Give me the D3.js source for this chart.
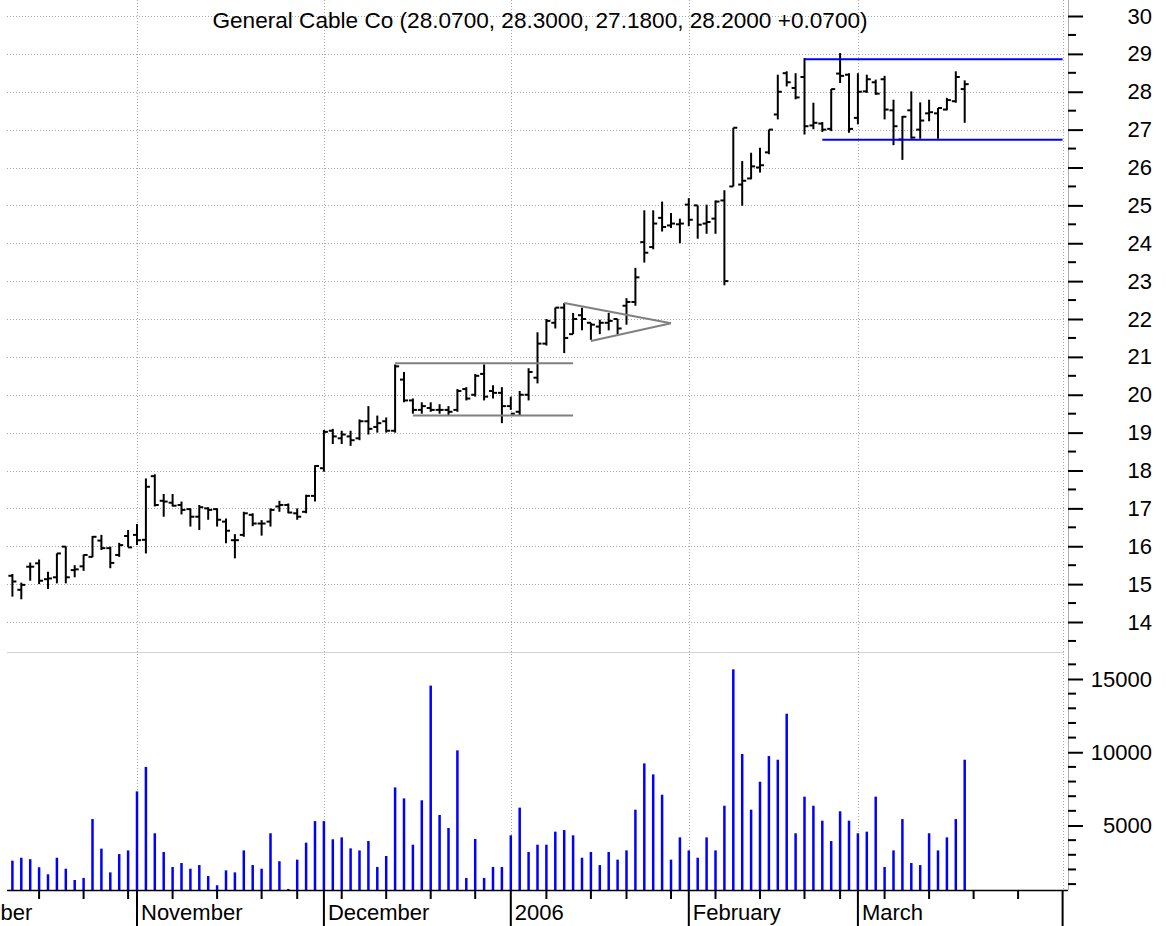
<!DOCTYPE html>
<html>
<head>
<meta charset="utf-8">
<script src="https://cdn.jsdelivr.net/npm/d3@7"></script>
<style>
  body { margin: 0; background: #fff; }
  svg { display: block; }
  text { font-family: "Liberation Sans", Arial, sans-serif; fill: #000; }
</style>
</head>
<body>
<div id="chart"></div>
<script>
// General Cable Co, daily bars 2005-10-12 .. 2006-03-17
const firstDate = '2005-10-12';
const holidays = ['2005-11-24', '2005-12-26', '2006-01-02', '2006-01-16', '2006-02-20'];

const opens = [
  15.22, 14.85, 15.46, 15.55, 15.13, 15.18, 15.99, 15.37, 15.47, 15.72, 16.15, 15.95, 15.77, 16.27,
  16.30, 16.17, 17.85, 17.20, 17.15, 17.09, 16.98, 16.78, 17.00, 16.98, 16.65, 16.16, 16.30, 16.83, 16.60, 16.65, 17.05, 17.09, 16.87, 16.91, 17.33,
  18.06, 19.05, 18.85, 18.90, 18.85, 19.30, 19.15, 19.30, 19.05, 20.40, 19.85, 19.60, 19.65, 19.60, 19.60, 19.60, 20.15, 20.00, 20.55, 20.10, 20.05,
  19.70, 19.55, 20.00, 20.45, 21.35, 21.90, 22.30, 21.60, 22.10, 21.90, 21.80, 21.90, 22.00, 22.35, 22.45, 24.03, 23.90, 24.67, 24.47, 24.50,
  25.02, 25.00, 24.52, 24.65, 25.13, 25.50, 25.55, 25.71, 26.00, 26.40, 27.40, 28.49, 28.10, 28.39, 27.11, 27.16, 27.02, 28.48, 28.45,
  27.31, 28.01, 28.25, 28.33, 27.51, 26.74, 27.51, 27.00, 27.43, 27.43, 27.53, 27.75, 28.07
];
const highs = [
  15.27, 15.04, 15.57, 15.65, 15.33, 15.81, 16.00, 15.50, 15.78, 16.27, 16.30, 15.99, 16.09, 16.43,
  16.59, 17.79, 17.90, 17.38, 17.38, 17.18, 17.00, 17.09, 17.03, 17.00, 16.73, 16.32, 16.91, 16.87, 16.69, 17.00, 17.20, 17.13, 17.00, 17.36, 18.14,
  19.07, 19.10, 19.05, 19.05, 19.35, 19.70, 19.45, 19.40, 20.80, 20.60, 19.90, 19.80, 19.80, 19.75, 19.70, 20.15, 20.20, 20.55, 20.80, 20.25, 20.20,
  19.95, 20.10, 20.70, 21.65, 22.00, 22.30, 22.42, 22.16, 22.30, 21.90, 21.98, 22.16, 22.00, 22.55, 23.35, 24.87, 24.87, 25.10, 24.80, 24.65,
  25.19, 25.00, 25.02, 25.13, 25.40, 27.05, 26.17, 26.39, 26.52, 27.00, 28.45, 28.54, 28.49, 28.89, 27.71, 27.20, 28.07, 29.02, 28.49,
  28.49, 28.45, 28.32, 28.42, 27.79, 27.36, 28.01, 27.72, 27.79, 27.57, 27.84, 28.54, 28.30
];
const lows = [
  14.67, 14.60, 15.09, 15.00, 14.87, 15.02, 15.02, 15.18, 15.35, 15.71, 15.90, 15.42, 15.72, 15.97,
  16.03, 15.81, 17.05, 16.78, 17.05, 16.84, 16.52, 16.43, 16.70, 16.52, 16.08, 15.68, 16.25, 16.53, 16.28, 16.52, 16.91, 16.87, 16.70, 16.87, 17.18,
  17.97, 18.70, 18.70, 18.65, 18.80, 18.95, 19.00, 19.00, 19.00, 19.80, 19.50, 19.50, 19.55, 19.50, 19.45, 19.55, 19.85, 19.95, 19.85, 19.90, 19.25,
  19.60, 19.45, 19.85, 20.30, 21.30, 21.75, 21.10, 21.60, 21.70, 21.45, 21.60, 21.70, 21.60, 21.85, 22.35, 23.49, 23.84, 24.31, 24.40, 24.00,
  24.45, 24.12, 24.25, 24.25, 22.89, 25.50, 24.99, 25.69, 25.87, 26.35, 27.27, 28.14, 27.80, 26.87, 27.01, 26.94, 26.96, 28.23, 26.92,
  27.14, 27.97, 27.92, 27.27, 26.59, 26.20, 26.76, 26.76, 27.22, 26.76, 27.51, 27.71, 27.18
];
const closes = [
  15.07, 14.98, 15.46, 15.09, 15.15, 15.81, 15.18, 15.39, 15.77, 16.25, 15.95, 15.56, 16.03, 15.97,
  16.16, 17.57, 17.09, 17.18, 17.07, 16.96, 16.78, 17.03, 16.96, 16.70, 16.41, 16.16, 16.87, 16.60, 16.60, 16.96, 17.09, 16.89, 16.78, 17.33, 18.12,
  19.02, 18.90, 18.95, 18.80, 19.30, 19.10, 19.25, 19.05, 20.75, 19.85, 19.60, 19.70, 19.60, 19.60, 19.55, 20.10, 19.90, 20.50, 19.95, 20.05, 19.70,
  19.50, 20.00, 20.60, 21.35, 21.95, 22.30, 21.50, 22.00, 22.00, 21.85, 21.90, 21.95, 21.75, 22.45, 23.10, 23.75, 24.52, 24.43, 24.52, 24.52,
  24.62, 24.49, 24.56, 25.10, 23.00, 27.05, 25.65, 26.03, 26.06, 27.00, 28.00, 28.25, 27.85, 27.09, 27.18, 27.00, 28.07, 28.42, 27.02,
  28.00, 28.33, 27.95, 27.53, 27.09, 27.34, 26.79, 27.24, 27.46, 27.57, 27.78, 28.39, 28.20
];
const volumes = [
  2600, 2800, 2700, 2150, 1670, 2800, 2050, 1280, 1420, 5440, 3420, 1800, 3050, 3300,
  7330, 9000, 4470, 3190, 2170, 2440, 2050, 2300, 1550, 920, 1940, 1800, 3300, 2300, 2050, 4470, 2560, 670, 2670, 3830, 5300,
  5300, 4060, 4190, 3440, 3300, 3940, 2170, 2920, 7600, 6850, 3690, 6720, 14550, 5720, 4830, 10130, 1420, 4080, 1420, 2170, 2170,
  4330, 6220, 3190, 3690, 3690, 4580, 4690, 4330, 2800, 3190, 2300, 3190, 2670, 3300, 6080, 9240, 8490, 7100, 2670, 4190,
  3300, 2800, 4190, 3300, 6350, 15660, 9880, 6080, 7990, 9740, 9490, 12630, 4470, 6970, 6350, 5330, 3940, 5970, 5330,
  4470, 4580, 6970, 2170, 3300, 5440, 2440, 2300, 4470, 3300, 4190, 5440, 9490
];

const priceTicks = d3.range(14, 31);
const volumeTicks = [5000, 10000, 15000];
const monthNames = ['January', 'February', 'March', 'April', 'May', 'June', 'July',
  'August', 'September', 'October', 'November', 'December'];
const title = 'General Cable Co (28.0700, 28.3000, 27.1800, 28.2000 +0.0700)';

// Drawn studies: [start bar, end bar, price] segments
const rectangleLines = [[43, 63, 20.83, 20.83], [45, 63, 19.45, 19.45]];
const triangleLines = [[62, 74, 22.42, 21.89], [65, 74, 21.42, 21.89]];
const rangeLines = [[89, 118, 28.86, 28.86], [91, 118, 26.73, 26.73]];

const W = 1166, H = 926;
const paneRight = 1064, axisX = 1068;
const priceBottom = 652, volBase = 890;

const svg = d3.select('#chart').append('svg')
  .attr('width', W)
  .attr('height', H);

// trading calendar (weekdays minus exchange holidays)
const fmt = d3.timeFormat('%Y-%m-%d');
const calendar = d3.timeDay.range(new Date(2005, 9, 3), new Date(2006, 3, 4))
  .filter(d => d.getDay() % 6 !== 0 && !holidays.includes(fmt(d)));
const offset = calendar.findIndex(d => fmt(d) === firstDate);
const slots = calendar.map((d, i) => ({ date: d, slot: i - offset }));
const lastSlot = slots[slots.length - 1].slot;

const x = d3.scaleLinear().domain([0, lastSlot]).range([12.4, 1062.6]);
const y = d3.scaleLinear().domain([14, 30]).range([622, 16]);
const vy = d3.scaleLinear().domain([5000, 15000]).range([825.5, 679]);

const bars = opens.map((o, i) => ({ i, o, h: highs[i], l: lows[i], c: closes[i], v: volumes[i] }));

// month starts and first day of each week
slots.forEach((s, k) => {
  const prev = slots[k - 1];
  s.month = !prev || prev.date.getMonth() !== s.date.getMonth();
  s.week = !s.month && prev && s.date.getDay() < prev.date.getDay();
});
const monthSlots = slots.filter(s => s.month);
const weekSlots = slots.filter(s => s.week);

const grid = svg.append('g')
  .attr('stroke', '#a8a8a8')
  .attr('stroke-width', 1)
  .attr('stroke-dasharray', '1,2');

grid.selectAll('.hgrid')
  .data(priceTicks)
  .enter()
  .append('line')
  .attr('x1', 7)
  .attr('x2', paneRight)
  .attr('y1', d => Math.round(y(d)) + 0.5)
  .attr('y2', d => Math.round(y(d)) + 0.5);

grid.selectAll('.vgrid')
  .data(monthSlots.filter(s => s.slot >= 0))
  .enter()
  .append('line')
  .attr('x1', d => Math.round(x(d.slot)) + 0.5)
  .attr('x2', d => Math.round(x(d.slot)) + 0.5)
  .attr('y1', 0)
  .attr('y2', volBase);

// pane separator
svg.append('line')
  .attr('x1', 7)
  .attr('x2', paneRight)
  .attr('y1', priceBottom + 0.5)
  .attr('y2', priceBottom + 0.5)
  .style('stroke', '#d4d4d4')
  .style('stroke-width', 1);

// title
svg.append('text')
  .attr('x', 540)
  .attr('y', 28)
  .attr('text-anchor', 'middle')
  .style('font-size', '22.6px')
  .text(title);

// volume bars
svg.append('g')
  .selectAll('line')
  .data(bars)
  .enter()
  .append('line')
  .attr('x1', d => x(d.i))
  .attr('x2', d => x(d.i))
  .attr('y1', volBase)
  .attr('y2', d => vy(d.v))
  .style('stroke', '#0000ff')
  .style('stroke-width', 2.5);

// OHLC bars
const ohlc = svg.append('g')
  .style('stroke', '#000')
  .style('stroke-width', 2);

ohlc.selectAll('.hl')
  .data(bars)
  .enter()
  .append('line')
  .attr('x1', d => x(d.i))
  .attr('x2', d => x(d.i))
  .attr('y1', d => y(d.h))
  .attr('y2', d => y(d.l));

ohlc.selectAll('.open')
  .data(bars)
  .enter()
  .append('line')
  .attr('x1', d => x(d.i) - 4)
  .attr('x2', d => x(d.i))
  .attr('y1', d => y(d.o))
  .attr('y2', d => y(d.o));

ohlc.selectAll('.close')
  .data(bars)
  .enter()
  .append('line')
  .attr('x1', d => x(d.i))
  .attr('x2', d => x(d.i) + 4)
  .attr('y1', d => y(d.c))
  .attr('y2', d => y(d.c));

// drawn studies
function drawSegments (data, color) {
  svg.append('g')
    .selectAll('line')
    .data(data)
    .enter()
    .append('line')
    .attr('x1', d => x(d[0]))
    .attr('x2', d => x(d[1]))
    .attr('y1', d => y(d[2]))
    .attr('y2', d => y(d[3]))
    .style('stroke', color)
    .style('stroke-width', 2);
}
drawSegments(rectangleLines, '#808080');
drawSegments(triangleLines, '#808080');
drawSegments(rangeLines, '#0000ff');

// right axes
svg.append('line')
  .attr('x1', axisX + 0.5)
  .attr('x2', axisX + 0.5)
  .attr('y1', 0)
  .attr('y2', volBase)
  .style('stroke', '#b0b0b0');

const priceAxis = d3.axisRight(y)
  .tickValues(priceTicks)
  .tickSize(15)
  .tickSizeOuter(0)
  .tickFormat(d3.format('d'));

svg.append('g')
  .attr('transform', 'translate(' + axisX + ',0)')
  .call(priceAxis)
  .call(g => g.select('.domain').remove())
  .call(g => g.selectAll('line').style('stroke', '#000').style('stroke-width', 2))
  .call(g => g.selectAll('text')
    .attr('x', 84)
    .attr('text-anchor', 'end')
    .style('font-size', '22px')
    .style('font-family', '"Liberation Sans", Arial, sans-serif'));

svg.append('g')
  .selectAll('line')
  .data(d3.range(13.5, 30.5, 1))
  .enter()
  .append('line')
  .attr('x1', axisX)
  .attr('x2', axisX + 8)
  .attr('y1', d => y(d))
  .attr('y2', d => y(d))
  .style('stroke', '#000')
  .style('stroke-width', 2);

const volumeAxis = d3.axisRight(vy)
  .tickValues(volumeTicks)
  .tickSize(15)
  .tickSizeOuter(0)
  .tickFormat(d3.format('d'));

svg.append('g')
  .attr('transform', 'translate(' + axisX + ',0)')
  .call(volumeAxis)
  .call(g => g.select('.domain').remove())
  .call(g => g.selectAll('line').style('stroke', '#000').style('stroke-width', 2))
  .call(g => g.selectAll('text')
    .attr('x', 84)
    .attr('text-anchor', 'end')
    .style('font-size', '22px')
    .style('font-family', '"Liberation Sans", Arial, sans-serif'));

svg.append('g')
  .selectAll('line')
  .data(d3.range(1000, 17000, 1000).filter(v => v % 5000 !== 0))
  .enter()
  .append('line')
  .attr('x1', axisX)
  .attr('x2', axisX + 8)
  .attr('y1', d => vy(d))
  .attr('y2', d => vy(d))
  .style('stroke', '#000')
  .style('stroke-width', 2);

// time axis
const xAxis = svg.append('g');

xAxis.append('line')
  .attr('x1', 7)
  .attr('x2', axisX)
  .attr('y1', volBase + 0.5)
  .attr('y2', volBase + 0.5)
  .style('stroke', '#000')
  .style('stroke-width', 1.5);

xAxis.selectAll('.week')
  .data(weekSlots)
  .enter()
  .append('line')
  .attr('x1', d => x(d.slot))
  .attr('x2', d => x(d.slot))
  .attr('y1', volBase)
  .attr('y2', volBase + 9)
  .style('stroke', '#000')
  .style('stroke-width', 2);

xAxis.selectAll('.month')
  .data(monthSlots)
  .enter()
  .append('line')
  .attr('x1', d => x(d.slot))
  .attr('x2', d => x(d.slot))
  .attr('y1', volBase)
  .attr('y2', H)
  .style('stroke', '#000')
  .style('stroke-width', 2);

xAxis.selectAll('text')
  .data(monthSlots.filter(s => s.slot < lastSlot))
  .enter()
  .append('text')
  .attr('x', d => x(d.slot) + 4)
  .attr('y', 920)
  .style('font-size', '22px')
  .text(d => d.date.getMonth() === 0 ? d.date.getFullYear() : monthNames[d.date.getMonth()]);
</script>
</body>
</html>
